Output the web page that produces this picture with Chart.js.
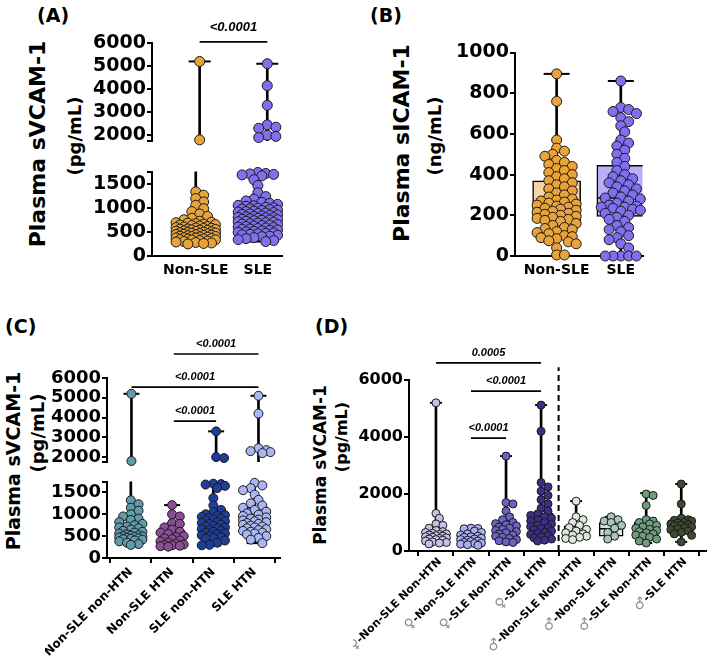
<!DOCTYPE html>
<html>
<head>
<meta charset="utf-8">
<script src="https://cdn.jsdelivr.net/npm/chart.js@4.4.1/dist/chart.umd.min.js"></script>
<style>
  body { margin: 0; background: #fff; width: 720px; height: 658px; position: relative; overflow: hidden; font-family: 'DejaVu Sans', sans-serif; }
  canvas { position: absolute; }
  .t { position: absolute; font-weight: bold; white-space: nowrap; line-height: 1; color: #000; }
  .v { position: absolute; font-weight: bold; white-space: nowrap; line-height: 1; color: #000; transform: translate(-50%, -50%) rotate(-90deg); }
</style>
</head>
<body>
<script>
// ---- data ----
// (A) plasma sVCAM-1 (pg/mL), (B) plasma sICAM-1 (ng/mL)
const catsAB = ["Non-SLE", "SLE"];
const vcamNonSLE = [5200, 1800, 1330, 1260, 1190, 1120, 1050, 980, 920, 870, 820, 780, 750, 720, 700, 690, 680, 670, 660, 650, 640, 630, 620, 610, 600, 590, 580, 575, 570, 560, 555, 550, 540, 535, 530, 520, 515, 510, 500, 495, 490, 480, 475, 470, 465, 460, 450, 445, 440, 430, 425, 420, 410, 405, 400, 395, 390, 380, 375, 370, 360, 355, 350, 340, 335, 330, 320, 310, 300, 290, 280, 270, 260, 250];
const vcamSLE = [5100, 4150, 3300, 2450, 2350, 2300, 2000, 1950, 1900, 1730, 1710, 1700, 1690, 1680, 1660, 1580, 1460, 1310, 1230, 1180, 1140, 1110, 1090, 1070, 1050, 1040, 1030, 1010, 1000, 990, 980, 970, 960, 950, 940, 930, 920, 910, 900, 890, 880, 870, 860, 850, 840, 830, 820, 810, 800, 795, 790, 780, 770, 760, 750, 745, 740, 730, 720, 710, 700, 690, 680, 670, 660, 650, 640, 630, 620, 610, 600, 590, 580, 570, 560, 550, 540, 530, 520, 510, 500, 490, 480, 470, 460, 450, 440, 430, 410, 400, 380, 360, 340, 320, 300];
// box = [min, q1, median, q3, max]
const vcamBoxNonSLE = [250, 400, 510, 680, 5200];
const vcamBoxSLE = [300, 620, 800, 1060, 5100];

const icamNonSLE = [895, 760, 570, 530, 515, 500, 490, 470, 460, 450, 440, 430, 420, 410, 400, 390, 380, 370, 360, 350, 340, 330, 320, 310, 300, 290, 280, 275, 270, 265, 260, 255, 250, 245, 240, 235, 230, 225, 220, 215, 210, 205, 200, 195, 190, 185, 180, 175, 170, 160, 150, 140, 135, 130, 120, 115, 110, 100, 95, 90, 85, 75, 70, 60, 40, 5, 5];
const icamSLE = [860, 730, 720, 710, 700, 680, 660, 640, 610, 570, 555, 540, 520, 500, 480, 460, 440, 420, 400, 390, 380, 370, 360, 350, 340, 330, 320, 310, 300, 290, 285, 280, 270, 260, 250, 245, 240, 240, 235, 230, 225, 220, 210, 200, 190, 180, 170, 150, 140, 130, 120, 100, 90, 80, 60, 40, 0, 0, 0, 0, 0];
const icamBoxNonSLE = [0, 170, 255, 370, 895];
const icamBoxSLE = [0, 195, 285, 445, 860];

// (C) sVCAM-1 by SLE / hypertension
const catsC = ["Non-SLE non-HTN", "Non-SLE HTN", "SLE non-HTN", "SLE HTN"];
const cNonSLEnonHTN = [5200, 1800, 1320, 1230, 1150, 1080, 1000, 950, 900, 870, 820, 780, 750, 720, 700, 680, 650, 620, 600, 580, 560, 540, 520, 510, 500, 490, 480, 470, 460, 450, 440, 430, 420, 400, 380, 350, 320, 300];
const cNonSLEHTN = [1210, 1000, 950, 800, 780, 700, 650, 600, 580, 550, 500, 480, 450, 430, 400, 380, 350, 330, 310, 300, 290, 280, 270, 260];
const cSLEnonHTN = [3300, 2000, 1950, 1700, 1690, 1680, 1650, 1600, 1370, 1200, 1100, 1050, 1000, 980, 960, 940, 920, 900, 880, 860, 840, 820, 800, 780, 760, 740, 720, 700, 680, 660, 640, 620, 600, 580, 560, 540, 520, 500, 480, 460, 440, 400, 350, 300, 290];
const cSLEHTN = [5100, 4200, 2450, 2350, 2300, 2250, 2200, 1720, 1660, 1600, 1550, 1450, 1330, 1250, 1200, 1150, 1100, 1060, 1020, 990, 960, 930, 900, 880, 860, 840, 820, 800, 780, 760, 740, 720, 700, 680, 660, 640, 620, 600, 580, 560, 540, 500, 460, 420, 340];
const cBoxNonSLEnonHTN = [300, 430, 520, 720, 5200];
const cBoxNonSLEHTN = [260, 300, 420, 630, 1210];
const cBoxSLEnonHTN = [290, 480, 720, 990, 3300];
const cBoxSLEHTN = [340, 640, 820, 1160, 5100];

// (D) sVCAM-1 by sex / SLE / hypertension
const catsD = ["♀-Non-SLE Non-HTN", "♀-Non-SLE HTN", "♀-SLE Non-HTN", "♀-SLE HTN", "♂-Non-SLE Non-HTN", "♂-Non-SLE HTN", "♂-SLE Non-HTN", "♂-SLE HTN"];
const fNonSLEnonHTN = [5200, 1320, 1150, 950, 900, 800, 720, 680, 650, 620, 600, 580, 560, 540, 520, 500, 480, 460, 440, 420, 400, 380, 350, 320, 300, 280, 250];
const fNonSLEHTN = [800, 790, 780, 700, 650, 600, 560, 520, 500, 480, 450, 420, 400, 380, 350, 330, 300, 280, 260, 240, 220, 200];
const fSLEnonHTN = [3330, 1700, 1650, 1400, 1200, 1100, 1000, 960, 920, 880, 840, 800, 760, 720, 680, 640, 600, 560, 520, 480, 440, 400, 360, 320, 300];
const fSLEHTN = [5120, 4200, 2400, 2250, 2100, 1950, 1800, 1650, 1500, 1400, 1300, 1250, 1200, 1150, 1100, 1050, 1000, 950, 900, 860, 820, 780, 740, 700, 660, 620, 580, 540, 500, 460, 420, 380, 350];
const mNonSLEnonHTN = [1750, 1200, 1100, 1000, 900, 820, 760, 700, 640, 600, 560, 520, 480, 440, 400];
const mNonSLEHTN = [1200, 1100, 1050, 1000, 900, 800, 650, 520, 420];
const mSLEnonHTN = [2000, 1950, 1600, 1100, 1050, 1000, 950, 900, 850, 800, 760, 720, 680, 640, 600, 560, 520, 480, 420, 350, 280];
const mSLEHTN = [2350, 1650, 1150, 1100, 1080, 1050, 1000, 980, 950, 920, 900, 880, 850, 820, 780, 750, 700, 650, 600, 550, 320];
const fBoxNonSLEnonHTN = [250, 420, 520, 700, 5200];
const fBoxNonSLEHTN = [200, 290, 400, 560, 800];
const fBoxSLEnonHTN = [300, 480, 700, 980, 3330];
const fBoxSLEHTN = [350, 620, 850, 1330, 5120];
const mBoxNonSLEnonHTN = [400, 520, 650, 880, 1750];
const mBoxNonSLEHTN = [420, 520, 780, 1000, 1200];
const mBoxSLEnonHTN = [280, 500, 750, 1010, 2030];
const mBoxSLEHTN = [320, 630, 800, 1090, 2350];

// tick values and p-values
const ticksUpper = [1750, 2000, 3000, 4000, 5000, 6000];
const ticksLower = [0, 500, 1000, 1500, 1750];
const ticksB = [0, 200, 400, 600, 800, 1000];
const ticksD = [0, 2000, 4000, 6000];
const pA = ["<0.0001"];
const pC = ["<0.0001", "<0.0001", "<0.0001"];
const pD = ["0.0005", "<0.0001", "<0.0001"];

// ---- setup ----
Chart.defaults.font.family = "'DejaVu Sans', sans-serif";
Chart.defaults.font.weight = "bold";
Chart.defaults.color = "#000";

function label(txt, x, y, size) {
    const d = document.createElement("div");
    d.className = "t";
    d.textContent = txt;
    d.style.left = x + "px"; d.style.top = y + "px"; d.style.fontSize = size + "px";
    document.body.appendChild(d);
}
function vlabel(txt, cx, cy, size) {
    const d = document.createElement("div");
    d.className = "v";
    d.textContent = txt;
    d.style.left = cx + "px"; d.style.top = cy + "px"; d.style.fontSize = size + "px";
    document.body.appendChild(d);
}

// pixel y of a value on a (possibly broken) axis, used only for beeswarm spacing
function yPix(p, v) {
    for (let i = p.segs.length - 1; i >= 0; i--) {
        const s = p.segs[i];
        if (v <= s.max || i === 0) return s.bottom - (v - s.min) / (s.max - s.min) * (s.bottom - s.top);
    }
}

// simple beeswarm: place each point nearest to the center without much overlap
function swarm(p, values, idx) {
    const placed = [];
    const out = [];
    const dmin = p.ptR * 2 * 0.75;
    values.slice().sort((a, b) => b - a).forEach(v => {
        const py = yPix(p, v);
        let best = 0, bestD = -1;
        for (let k = 0; k <= 30; k++) {
            const dx = (k % 2 ? 1 : -1) * Math.ceil(k / 2) * p.ptR * 0.9;
            if (Math.abs(dx) > p.halfW) continue;
            let near = Infinity;
            placed.forEach(q => { near = Math.min(near, Math.hypot(dx - q.dx, py - q.py)); });
            if (near >= dmin) { best = dx; bestD = near; break; }
            if (near > bestD) { bestD = near; best = dx; }
        }
        placed.push({ dx: best, py });
        out.push({ x: idx + best / p.step, y: v });
    });
    return out;
}

function sigPlugin(p) {
    return {
        id: "sigText",
        afterDatasetsDraw(chart) {
            const { ctx, scales: { x, y } } = chart;
            ctx.save();
            ctx.font = `italic bold ${p.sigSize}px 'Liberation Sans', Arial, sans-serif`;
            ctx.fillStyle = "#000";
            ctx.textAlign = "center";
            ctx.textBaseline = "middle";
            p.sig.forEach(s => {
                ctx.fillText(s.text, (x.getPixelForValue(s.from) + x.getPixelForValue(s.to)) / 2, y.getPixelForValue(s.y) - p.sigGap);
            });
            ctx.restore();
        }
    };
}

function sexLabelPlugin(p) {
    return {
        id: "sexLabels",
        afterDraw(chart) {
            const { ctx, scales: { x } } = chart;
            const y0 = chart.chartArea.bottom + 9;
            p.cats.forEach((c, i) => {
                const sym = c[0], rest = c.slice(1);
                ctx.save();
                ctx.translate(x.getPixelForValue(i) + 4, y0);
                ctx.rotate(-Math.PI / 4);
                ctx.textAlign = "right";
                ctx.textBaseline = "middle";
                ctx.font = `bold ${p.xFont}px 'DejaVu Sans'`;
                ctx.fillStyle = "#000";
                ctx.fillText(rest, 0, 0);
                const w = ctx.measureText(rest).width;
                ctx.font = `${p.xFont + 3}px 'DejaVu Sans'`;
                ctx.fillStyle = "#8c8c8c";
                ctx.fillText(sym, -w, 0);
                ctx.restore();
            });
        }
    };
}

function drawPanel(p) {
    const xMin = (p.left - p.cat0) / p.step;
    const xMax = (p.right - p.cat0) / p.step;
    const swarms = p.groups.map((g, i) => swarm(p, g.values, i));

    p.segs.forEach((s, si) => {
        const isTop = si === 0;
        const isBottom = si === p.segs.length - 1;
        const inSeg = v => (isBottom ? v <= s.max : v > s.min && v <= s.max);

        const cl = p.left - p.yAxisW;
        const ct = s.top - s.padTop;
        const cw = p.right + p.padRight - cl;
        const ch = s.bottom + (isBottom ? p.xAxisH : s.padBottom) - ct;
        const canvas = document.createElement("canvas");
        canvas.width = cw; canvas.height = ch;
        canvas.style.left = cl + "px"; canvas.style.top = ct + "px";
        canvas.style.width = cw + "px"; canvas.style.height = ch + "px";
        document.body.appendChild(canvas);

        const datasets = [];
        p.groups.forEach((g, i) => {
            const b = g.box;
            datasets.push({ type: "bar", data: [{ x: i, y: [b[0], b[4]] }], backgroundColor: "#000", borderWidth: 0,
                barThickness: 2, grouped: false, clip: 0, order: 6 });
            datasets.push({ type: "bar", data: [{ x: i, y: [b[1], b[3]] }], backgroundColor: g.fill, borderColor: "#000",
                borderWidth: 1.5, borderSkipped: false, barThickness: p.boxW, grouped: false, clip: 0, order: 5 });
            datasets.push({ type: "scatter", data: [{ x: i, y: b[2] }].filter(d => inSeg(d.y)), pointStyle: "line",
                pointRadius: p.boxW / 2, pointBorderColor: "#000", pointBorderWidth: 1.5, clip: false, order: 4 });
            datasets.push({ type: "scatter", data: [{ x: i, y: b[0] }, { x: i, y: b[4] }].filter(d => inSeg(d.y)), pointStyle: "line",
                pointRadius: p.capR, pointBorderColor: "#000", pointBorderWidth: 2, clip: false, order: 3 });
            datasets.push({ type: "scatter", data: swarms[i].filter(d => inSeg(d.y)), pointRadius: p.ptR,
                pointBackgroundColor: g.pt, pointBorderColor: "#1a1a1a", pointBorderWidth: 1, clip: false, order: 1 });
        });
        if (isTop) {
            p.sig.forEach(sg => {
                datasets.push({ type: "line", data: [{ x: sg.from, y: sg.y }, { x: sg.to, y: sg.y }], borderColor: "#000",
                    borderWidth: 1.6, pointRadius: 0, clip: false, order: 0 });
            });
            if (p.divider) {
                datasets.push({ type: "line", data: [{ x: p.divider.x, y: p.divider.y0 }, { x: p.divider.x, y: p.divider.y1 }],
                    borderColor: "#000", borderWidth: 2, borderDash: [6, 4], pointRadius: 0, clip: false, order: 0 });
            }
        }

        const plugins = [];
        if (isTop) plugins.push(sigPlugin(p));
        if (isBottom && p.xLabel === "custom") plugins.push(sexLabelPlugin(p));

        new Chart(canvas, {
            type: "scatter",
            data: { datasets },
            plugins,
            options: {
                responsive: false,
                animation: false,
                devicePixelRatio: 1,
                layout: { padding: { top: s.padTop, bottom: isBottom ? 0 : s.padBottom, left: 0, right: p.padRight } },
                plugins: { legend: { display: false }, tooltip: { enabled: false } },
                scales: {
                    x: {
                        type: "linear", min: xMin, max: xMax, offset: false, display: isBottom,
                        afterBuildTicks: sc => { sc.ticks = p.cats.map((c, i) => ({ value: i })); },
                        afterFit: sc => {
                            sc.height = isBottom ? p.xAxisH : 0;
                            sc.paddingLeft = 0; sc.paddingRight = 0;
                        },
                        grid: { display: p.xTicks, drawOnChartArea: false, drawTicks: p.xTicks, tickLength: 5, color: "#000", lineWidth: 2 },
                        border: { display: true, color: "#000", width: 2 },
                        ticks: {
                            display: p.xLabel !== "custom", autoSkip: false, maxRotation: p.xRot, minRotation: p.xRot,
                            padding: p.xPad, font: { size: p.xFont, weight: "bold" }, color: "#000",
                            callback: v => p.cats[v]
                        }
                    },
                    y: {
                        type: "linear", min: s.min, max: s.max,
                        afterBuildTicks: sc => { sc.ticks = s.ticks.map(v => ({ value: v })); },
                        afterFit: sc => { sc.width = p.yAxisW; sc.paddingTop = 0; sc.paddingBottom = 0; },
                        grid: { drawOnChartArea: false, drawTicks: true, tickLength: 5, color: "#000", lineWidth: 2 },
                        border: { display: true, color: "#000", width: 2 },
                        ticks: { autoSkip: false, padding: 1, font: { size: p.yFont, weight: "bold" }, color: "#000",
                            callback: v => (v === s.blank ? "" : String(v)) }
                    }
                }
            }
        });
    });
}

// ---- panel text ----
label("(A)", 37, 6, 19);
label("(B)", 370, 6, 19);
label("(C)", 5, 317, 19);
label("(D)", 315, 317, 19);
vlabel("Plasma sVCAM-1", 38, 144, 22);
vlabel("(pg/mL)", 75, 136, 18);
vlabel("Plasma sICAM-1", 402, 143, 22);
vlabel("(ng/mL)", 435, 136, 18);
vlabel("Plasma sVCAM-1", 13, 461, 19);
vlabel("(pg/mL)", 38, 433, 18);
vlabel("Plasma sVCAM-1", 320, 465, 17);
vlabel("(pg/mL)", 342, 437, 16);

// ---- panels ----
drawPanel({
    cats: catsAB,
    groups: [
        { values: vcamNonSLE, box: vcamBoxNonSLE, pt: "#E8A33A", fill: "#F3D6A4" },
        { values: vcamSLE, box: vcamBoxSLE, pt: "#8070F0", fill: "#B9AEF7" }
    ],
    left: 152, right: 300, cat0: 202, step: 71, yAxisW: 62, padRight: 6, yFont: 19,
    boxW: 46, capR: 11, ptR: 5, halfW: 23, xAxisH: 26, xFont: 14, xPad: 6, xRot: 0, xTicks: false, xLabel: "flat",
    segs: [
        { top: 43, bottom: 142, min: 1750, max: 6000, ticks: ticksUpper, blank: 1750, padTop: 36, padBottom: 12 },
        { top: 157, bottom: 256, min: 0, max: 1750, ticks: ticksLower, blank: 1750, padTop: 10 }
    ],
    sig: [{ from: 0, to: 1, y: 6050, text: pA[0] }], sigSize: 13, sigGap: 14
});

drawPanel({
    cats: catsAB,
    groups: [
        { values: icamNonSLE, box: icamBoxNonSLE, pt: "#E8A33A", fill: "#F3D6A4" },
        { values: icamSLE, box: icamBoxSLE, pt: "#8070F0", fill: "#B9AEF7" }
    ],
    left: 515, right: 662, cat0: 563, step: 74, yAxisW: 62, padRight: 6, yFont: 19,
    boxW: 48, capR: 13, ptR: 5, halfW: 24, xAxisH: 26, xFont: 14, xPad: 6, xRot: 0, xTicks: false, xLabel: "flat",
    segs: [{ top: 41, bottom: 256, min: 0, max: 1000, ticks: ticksB, padTop: 14 }],
    sig: [], sigSize: 13, sigGap: 14
});

drawPanel({
    cats: catsC,
    groups: [
        { values: cNonSLEnonHTN, box: cBoxNonSLEnonHTN, pt: "#5E9CAD", fill: "#B9D3DA" },
        { values: cNonSLEHTN, box: cBoxNonSLEHTN, pt: "#8B4D96", fill: "#D6BCDB" },
        { values: cSLEnonHTN, box: cBoxSLEnonHTN, pt: "#1F3E99", fill: "#9FAED6" },
        { values: cSLEHTN, box: cBoxSLEHTN, pt: "#AAB6F2", fill: "#D5DCF8" }
    ],
    left: 107, right: 288, cat0: 132, step: 43.3, yAxisW: 62, padRight: 6, yFont: 18,
    boxW: 26, capR: 8, ptR: 4.5, halfW: 14, xAxisH: 100, xFont: 12, xPad: 2, xRot: 45, xTicks: true, xLabel: "rot",
    segs: [
        { top: 378, bottom: 462, min: 1750, max: 6000, ticks: ticksUpper, blank: 1750, padTop: 46, padBottom: 10 },
        { top: 475, bottom: 558, min: 0, max: 1750, ticks: ticksLower, blank: 1750, padTop: 8 }
    ],
    sig: [
        { from: 1, to: 3, y: 7215, text: pC[0] },
        { from: 0, to: 3, y: 5540, text: pC[1] },
        { from: 1, to: 2, y: 3820, text: pC[2] }
    ], sigSize: 11, sigGap: 10
});

drawPanel({
    cats: catsD,
    groups: [
        { values: fNonSLEnonHTN, box: fBoxNonSLEnonHTN, pt: "#C7C0E6", fill: "#E4E0F4" },
        { values: fNonSLEHTN, box: fBoxNonSLEHTN, pt: "#A9AEF2", fill: "#D6D8F8" },
        { values: fSLEnonHTN, box: fBoxSLEnonHTN, pt: "#6B62C4", fill: "#B8B3E3" },
        { values: fSLEHTN, box: fBoxSLEHTN, pt: "#3A2F86", fill: "#8B84C4" },
        { values: mNonSLEnonHTN, box: mBoxNonSLEnonHTN, pt: "#DDE8DC", fill: "#EEF3EE" },
        { values: mNonSLEHTN, box: mBoxNonSLEHTN, pt: "#A9C7B8", fill: "#DCE7E0" },
        { values: mSLEnonHTN, box: mBoxSLEnonHTN, pt: "#6E9C7C", fill: "#C9DDCE" },
        { values: mSLEHTN, box: mBoxSLEHTN, pt: "#3C4A32", fill: "#9BA693" }
    ],
    left: 409, right: 717, cat0: 437, step: 36.4, yAxisW: 56, padRight: 2, yFont: 16,
    boxW: 24, capR: 6, ptR: 4, halfW: 12, xAxisH: 107, xFont: 11, xPad: 2, xRot: 45, xTicks: true, xLabel: "custom",
    segs: [{ top: 380, bottom: 551, min: 0, max: 6000, ticks: ticksD, padTop: 42 }],
    sig: [
        { from: 0, to: 3, y: 6600, text: pD[0] },
        { from: 1, to: 3, y: 5610, text: pD[1] },
        { from: 1, to: 2, y: 3960, text: pD[2] }
    ], sigSize: 11, sigGap: 10,
    divider: { x: 3.5, y0: 0, y1: 6450 }
});
</script>
</body>
</html>
